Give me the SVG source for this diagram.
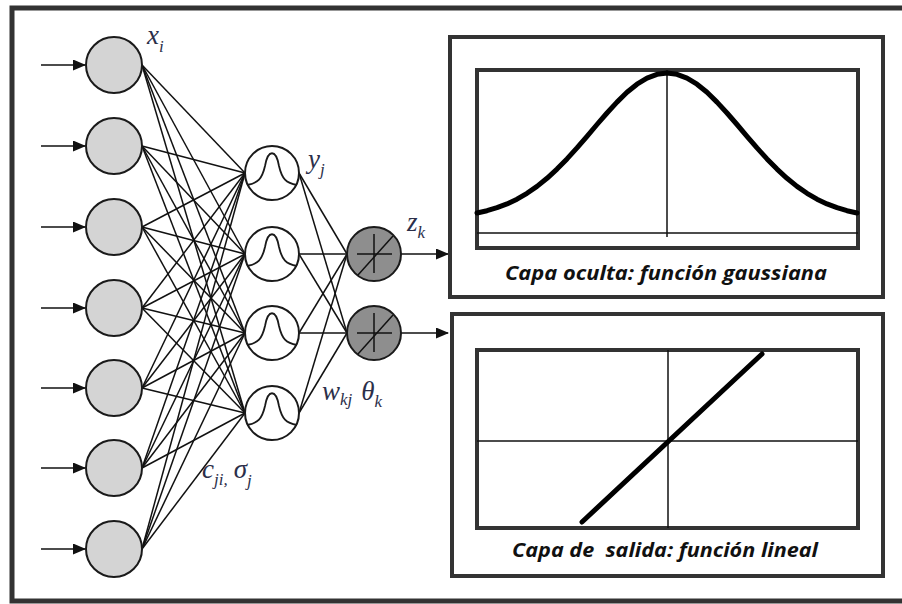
<svg xmlns="http://www.w3.org/2000/svg" width="902" height="604" viewBox="0 0 902 604">
<style>
.frame{fill:none;stroke:#333;stroke-width:5}
.box{fill:#fff;stroke:#333;stroke-width:4}
.in{fill:#d4d4d4;stroke:#1a1a1a;stroke-width:2}
.hid{fill:#fff;stroke:#1a1a1a;stroke-width:2}
.out{fill:#8e8e8e;stroke:#1a1a1a;stroke-width:2}
.thin{fill:none;stroke:#111;stroke-width:1.5}
.con line{stroke:#111;stroke-width:1.5}
.arr{stroke:#111;stroke-width:2.2;marker-end:url(#ah)}
.lab{font-family:"Liberation Serif","DejaVu Serif",serif;font-style:italic;fill:#2b2f4a}
.cap{font-family:"Open Sans","Liberation Sans",sans-serif;font-style:italic;font-weight:bold;font-size:19px;fill:#111}
.axis{stroke:#111;stroke-width:1.5}
.curve{fill:none;stroke:#000;stroke-width:5;stroke-linejoin:round;stroke-linecap:round}
</style>
<defs>
<marker id="ah" markerWidth="13" markerHeight="11" refX="12" refY="5.5" orient="auto" markerUnits="userSpaceOnUse">
<path d="M0,0 L13,5.5 L0,11 z" fill="#111"/>
</marker>
<path id="bell" d="M247,185 C258,183 262,179 265,166 C268,149 276,149 279,166 C282,179 286,183 297,185" fill="none" stroke="#1a1a1a" stroke-width="1.8"/>
</defs>
<rect width="902" height="604" fill="#fff"/>
<rect class="frame" x="12" y="8" width="900" height="593"/>

<g id="connectors" class="con">
<line x1="142" y1="65" x2="245" y2="173"/><line x1="142" y1="65" x2="245" y2="254"/><line x1="142" y1="65" x2="245" y2="333"/><line x1="142" y1="65" x2="245" y2="413"/>
<line x1="142" y1="146" x2="245" y2="173"/><line x1="142" y1="146" x2="245" y2="254"/><line x1="142" y1="146" x2="245" y2="333"/><line x1="142" y1="146" x2="245" y2="413"/>
<line x1="142" y1="227" x2="245" y2="173"/><line x1="142" y1="227" x2="245" y2="254"/><line x1="142" y1="227" x2="245" y2="333"/><line x1="142" y1="227" x2="245" y2="413"/>
<line x1="142" y1="308" x2="245" y2="173"/><line x1="142" y1="308" x2="245" y2="254"/><line x1="142" y1="308" x2="245" y2="333"/><line x1="142" y1="308" x2="245" y2="413"/>
<line x1="142" y1="388" x2="245" y2="173"/><line x1="142" y1="388" x2="245" y2="254"/><line x1="142" y1="388" x2="245" y2="333"/><line x1="142" y1="388" x2="245" y2="413"/>
<line x1="142" y1="468" x2="245" y2="173"/><line x1="142" y1="468" x2="245" y2="254"/><line x1="142" y1="468" x2="245" y2="333"/><line x1="142" y1="468" x2="245" y2="413"/>
<line x1="142" y1="549" x2="245" y2="173"/><line x1="142" y1="549" x2="245" y2="254"/><line x1="142" y1="549" x2="245" y2="333"/><line x1="142" y1="549" x2="245" y2="413"/>
<line x1="299" y1="173" x2="347" y2="254"/><line x1="299" y1="173" x2="347" y2="333"/>
<line x1="299" y1="254" x2="347" y2="254"/><line x1="299" y1="254" x2="347" y2="333"/>
<line x1="299" y1="333" x2="347" y2="254"/><line x1="299" y1="333" x2="347" y2="333"/>
<line x1="299" y1="413" x2="347" y2="254"/><line x1="299" y1="413" x2="347" y2="333"/>
<line class="arr" x1="41" y1="65" x2="85" y2="65"/>
<line class="arr" x1="41" y1="146" x2="85" y2="146"/>
<line class="arr" x1="41" y1="227" x2="85" y2="227"/>
<line class="arr" x1="41" y1="308" x2="85" y2="308"/>
<line class="arr" x1="41" y1="388" x2="85" y2="388"/>
<line class="arr" x1="41" y1="468" x2="85" y2="468"/>
<line class="arr" x1="41" y1="549" x2="85" y2="549"/>
<line class="arr" x1="401" y1="254" x2="448" y2="254"/>
<line class="arr" x1="401" y1="333" x2="448" y2="333"/>
</g>

<g id="in1"><circle class="in" cx="114" cy="65" r="28"/></g>
<g id="in2"><circle class="in" cx="114" cy="146" r="28"/></g>
<g id="in3"><circle class="in" cx="114" cy="227" r="28"/></g>
<g id="in4"><circle class="in" cx="114" cy="308" r="28"/></g>
<g id="in5"><circle class="in" cx="114" cy="388" r="28"/></g>
<g id="in6"><circle class="in" cx="114" cy="468" r="28"/></g>
<g id="in7"><circle class="in" cx="114" cy="549" r="28"/></g>

<g id="hid1"><circle class="hid" cx="272" cy="173" r="27"/><use href="#bell"/></g>
<g id="hid2"><circle class="hid" cx="272" cy="254" r="27"/><use href="#bell" y="81"/></g>
<g id="hid3"><circle class="hid" cx="272" cy="333" r="27"/><use href="#bell" y="160"/></g>
<g id="hid4"><circle class="hid" cx="272" cy="413" r="27"/><use href="#bell" y="240"/></g>

<g id="out1"><circle class="out" cx="374" cy="254" r="27"/>
<line class="thin" x1="357" y1="254" x2="392" y2="254"/><line class="thin" x1="374" y1="234" x2="374" y2="273"/><line class="thin" x1="358" y1="275" x2="393" y2="236"/></g>
<g id="out2"><circle class="out" cx="374" cy="333" r="27"/>
<line class="thin" x1="357" y1="333" x2="392" y2="333"/><line class="thin" x1="374" y1="313" x2="374" y2="352"/><line class="thin" x1="358" y1="354" x2="393" y2="315"/></g>

<g id="labels">
<text class="lab" x="147" y="44" font-size="27">x<tspan font-size="17" dy="8">i</tspan></text>
<text class="lab" x="308" y="168" font-size="27">y<tspan font-size="17" dy="7">j</tspan></text>
<text class="lab" x="407" y="231" font-size="27">z<tspan font-size="17" dy="7">k</tspan></text>
<text class="lab" x="322" y="400" font-size="27">w<tspan font-size="17" dy="5">kj</tspan><tspan font-size="27" dy="-5" dx="9">θ</tspan><tspan font-size="17" dy="7">k</tspan></text>
<text class="lab" x="202" y="478" font-size="27">c<tspan font-size="17" dy="7">ji,</tspan><tspan font-size="27" dy="-7" dx="6">σ</tspan><tspan font-size="17" dy="8">j</tspan></text>
</g>

<g id="gauss-box">
<rect class="box" x="450" y="37" width="433" height="260"/>
<rect class="box" x="477" y="70" width="381" height="178"/>
<line class="axis" x1="477" y1="233" x2="858" y2="233"/>
<line class="axis" x1="667" y1="70" x2="667" y2="237"/>
<polyline class="curve" points="477,213 487,210.7 497,207.7 507,203.9 517,199.2 527,193.3 537,186.4 547,178.3 557,169.1 567,158.9 577,147.9 587,136.3 597,124.5 607,113 617,102.1 627,92.3 637,84.2 647,78.1 657,74.3 667,73 677,74.3 687,78.1 697,84.2 707,92.3 717,102.1 727,113 737,124.5 747,136.3 757,147.9 767,158.9 777,169.1 787,178.3 797,186.4 807,193.3 817,199.2 827,203.9 837,207.7 847,210.7 857,213"/>
<text class="cap" x="505" y="280" textLength="322" lengthAdjust="spacingAndGlyphs">Capa oculta: función gaussiana</text>
</g>

<g id="linear-box">
<rect class="box" x="452" y="314" width="431" height="262"/>
<rect class="box" x="477" y="350" width="381" height="178"/>
<line class="axis" x1="477" y1="441" x2="858" y2="441"/>
<line class="axis" x1="668" y1="350" x2="668" y2="528"/>
<line class="curve" x1="582" y1="522" x2="762" y2="354" stroke-linecap="butt"/>
<text class="cap" x="512" y="557" textLength="306" lengthAdjust="spacingAndGlyphs" xml:space="preserve">Capa de  salida: función lineal</text>
</g>
</svg>
